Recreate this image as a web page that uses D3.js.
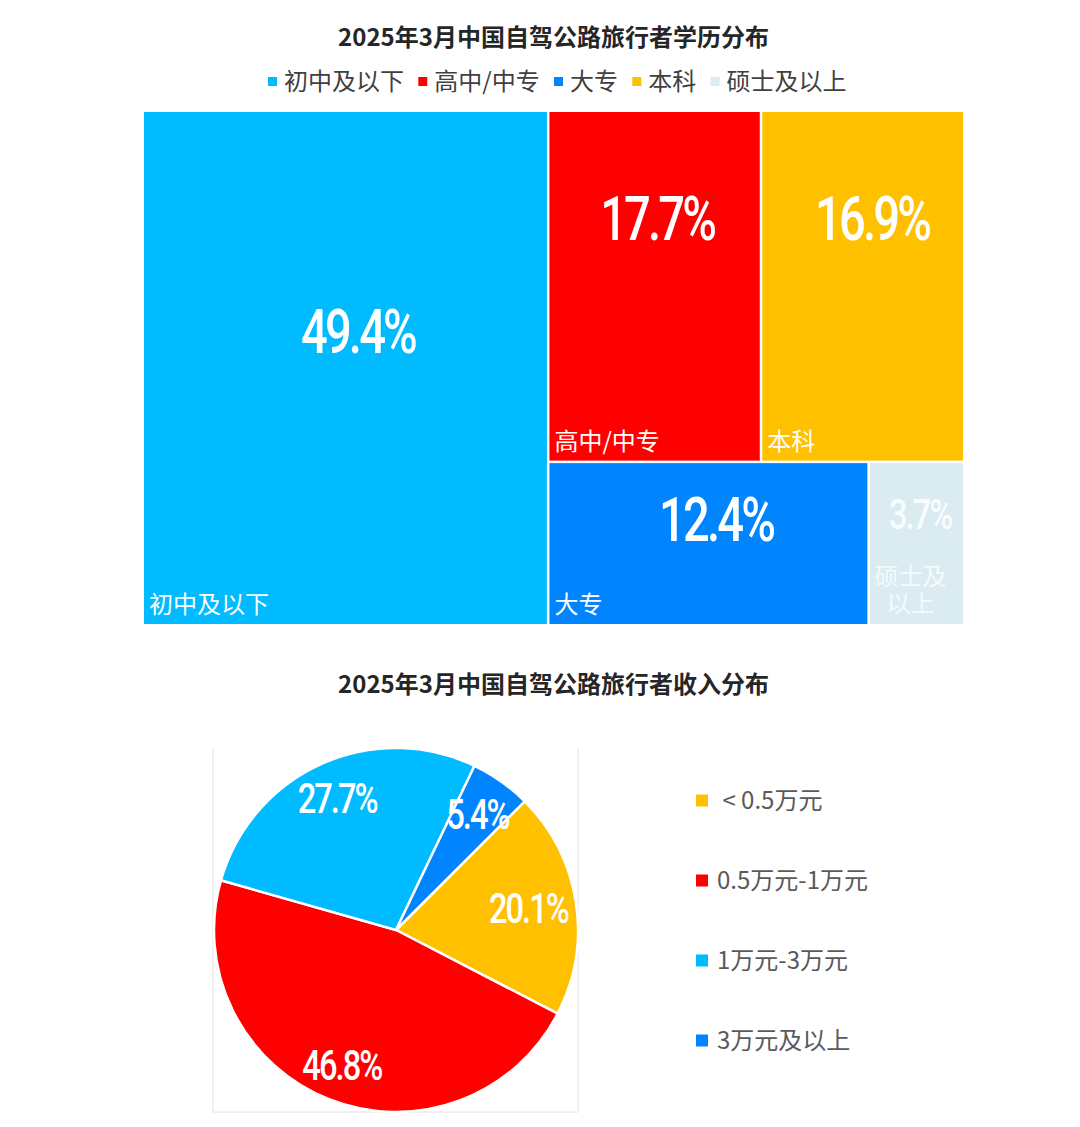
<!DOCTYPE html>
<html>
<head>
<meta charset="utf-8">
<script src="https://cdn.jsdelivr.net/npm/d3@7"></script>
<style>
body{margin:0;background:#fff;}
text{font-family:"Noto Sans CJK SC","Noto Sans",sans-serif;}
.num{font-family:Roboto,"Noto Sans",sans-serif;font-weight:500;fill:#fff;letter-spacing:-0.06em;}
</style>
</head>
<body>
<div id="chart"></div>
<script>
// 学历分布
const edu_titles = "2025年3月中国自驾公路旅行者学历分布";
const edu_names = ["初中及以下","高中/中专","大专","本科","硕士及以上"];
const edu_values = [49.4,17.7,12.4,16.9,3.7];
const edu_colors = ["#00BBFF","#FF0000","#0085FF","#FFC000","#DAEBF2"];

// 收入分布
const income_title = "2025年3月中国自驾公路旅行者收入分布";
const income_names = ["\u00a0< 0.5万元","0.5万元-1万元","1万元-3万元","3万元及以上"];
const income_values = [20.1,46.8,27.7,5.4];
const income_colors = ["#FFC000","#FF0000","#00BBFF","#0085FF"];

const W = 1080, H = 1127;
const svg = d3.select("#chart").append("svg")
    .attr("width", W).attr("height", H)
    .style("display","block");

function draw_title(str, y){
    svg.append("text").text(str)
        .attr("x", 553.5).attr("y", y)
        .attr("text-anchor","middle")
        .attr("font-size",24).attr("font-weight",700)
        .attr("fill","#262626");
}
// 横長の細い数字（元図のDIN風に合わせて横方向に縮める）
function draw_num(str, cx, cy, size, sx, opacity){
    svg.append("text").attr("class","num").text(str)
        .attr("transform","translate("+cx+","+cy+") scale("+sx+",1)")
        .attr("text-anchor","middle")
        .attr("dominant-baseline","central")
        .attr("font-size",size)
        .attr("opacity",opacity);
}

draw_title(edu_titles, 46);

// 凡例（上）
const legend = svg.append("g");
let lx = 268;
edu_names.forEach(function(name,i){
    legend.append("rect").attr("x",lx).attr("y",77).attr("width",9).attr("height",9)
        .attr("fill",edu_colors[i]);
    const t = legend.append("text").text(name)
        .attr("x",lx+16).attr("y",90)
        .attr("font-size",24).attr("fill","#404040");
    lx += 16 + t.node().getComputedTextLength() + 14.3;
});

// ツリーマップ: 左に最大項目、右は上下2段
const tree_root = d3.hierarchy({children:[
    {i:0},
    {children:[
        {children:[{i:1},{i:3}]},
        {children:[{i:2},{i:4}]}
    ]}
]}).sum(function(d){ return d.i===undefined ? 0 : edu_values[d.i]; });

d3.treemap()
    .tile(d3.treemapSliceDice)
    .size([819,512])
    .paddingInner(2.5)(tree_root);

// タイル内での数値の位置（割合）
const num_pos = [[0.531,0.428],[0.512,0.307],[0.524,0.354],[0.547,0.307],[0.54,0.317]];
const num_size = [62,62,62,62,43];

const tree_g = svg.append("g").attr("transform","translate(144,112)");
tree_g.selectAll("rect").data(tree_root.leaves()).enter().append("rect")
    .attr("x",function(d){ return d.x0; })
    .attr("y",function(d){ return d.y0; })
    .attr("width",function(d){ return d.x1-d.x0; })
    .attr("height",function(d){ return d.y1-d.y0; })
    .attr("fill",function(d){ return edu_colors[d.data.i]; });

tree_root.leaves().forEach(function(d){
    const i = d.data.i;
    const x = 144+d.x0, y = 112+d.y0, w = d.x1-d.x0, h = d.y1-d.y0;
    draw_num(edu_values[i].toFixed(1)+"%", x+w*num_pos[i][0], y+h*num_pos[i][1], num_size[i], 0.76, i===4 ? 0.85 : 1);
    if(i===4){
        // 幅が足りないので折り返し
        const t = svg.append("text")
            .attr("text-anchor","middle")
            .attr("font-size",24).attr("fill","#fff").attr("opacity",0.75);
        [edu_names[i].slice(0,3), edu_names[i].slice(3)].forEach(function(s,k){
            t.append("tspan").text(s)
                .attr("x",x+w/2-6).attr("y",y+h-39+k*27);
        });
    }else{
        svg.append("text").text(edu_names[i])
            .attr("x",x+5).attr("y",y+h-11)
            .attr("font-size",24).attr("fill","#fff");
    }
});

draw_title(income_title, 693);

// 円グラフ
const cx = 396, cy = 930, radius = 182;
const frame = svg.append("g").attr("stroke","#e2e2e2").attr("stroke-width",1);
[[213,748,213,1112],[578,748,578,1112],[213,1112,578,1112]].forEach(function(p){
    frame.append("line").attr("x1",p[0]).attr("y1",p[1]).attr("x2",p[2]).attr("y2",p[3]);
});

const pie = d3.pie().sort(null)
    .startAngle(Math.PI/4).endAngle(Math.PI/4+2*Math.PI);
const arcs = pie(income_values);
const arc = d3.arc().innerRadius(0).outerRadius(radius);
// ラベルを置く半径
const label_radius = [134,147,143,141];

svg.append("g").attr("transform","translate("+cx+","+cy+")")
    .selectAll("path").data(arcs).enter().append("path")
    .attr("d",arc)
    .attr("fill",function(d,i){ return income_colors[i]; })
    .attr("stroke","#fff").attr("stroke-width",2.5);

arcs.forEach(function(d,i){
    const c = d3.arc().innerRadius(label_radius[i]).outerRadius(label_radius[i]).centroid(d);
    draw_num(d.value.toFixed(1)+"%", cx+c[0], cy+c[1]-1, 43, 0.76, 1);
});

// 凡例（右）
income_names.forEach(function(name,i){
    const y = 800 + i*80;
    svg.append("rect").attr("x",696).attr("y",y-5.5).attr("width",12).attr("height",12)
        .attr("fill",income_colors[i]);
    svg.append("text").text(name)
        .attr("x",717).attr("y",y+9)
        .attr("font-size",24).attr("fill","#595959");
});
</script>
</body>
</html>
